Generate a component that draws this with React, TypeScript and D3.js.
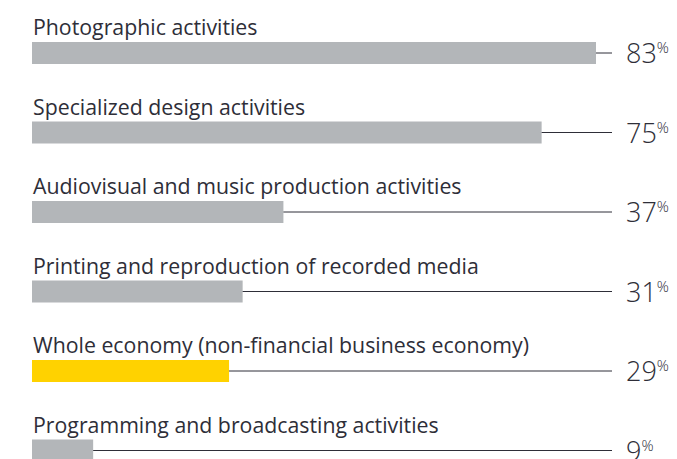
import React from "react";
import * as d3 from "d3";

const categories = [
  "Photographic activities",
  "Specialized design activities",
  "Audiovisual and music production activities",
  "Printing and reproduction of recorded media",
  "Whole economy (non-financial business economy)",
  "Programming and broadcasting activities",
];
const values = [83, 75, 37, 31, 29, 9];
const highlight = [false, false, false, false, true, false];

const W = 677;
const H = 459;

export default function App() {
  const x = d3.scaleLinear().domain([0, 100]).range([32, 32 + 679.5]);
  const y = d3.scaleBand<number>().domain(d3.range(categories.length)).range([0, 477]).paddingInner(0);
  const barH = 22;
  const lineEnd = 612;
  return (
    <svg width={W} height={H} style={{ position: "absolute", left: 0, top: 0, background: "#fff" }}>
      {categories.map((c, i) => {
        const top = y(i)! + 42;
        const mid = top + barH / 2;
        return (
          <g key={c}>
            <text x={33} y={top - 7} fontFamily="'Open Sans', sans-serif" fontSize={21.3} fill="#2e2e38">
              {c}
            </text>
            <rect x={x(0)} y={top} width={x(values[i]) - x(0)} height={barH} fill={highlight[i] ? "#ffd200" : "#b3b6b9"} />
            <line x1={x(values[i])} x2={lineEnd} y1={mid} y2={mid} stroke="#2e2e38" strokeWidth={1} />
            <text x={626} y={mid + 10} fontFamily="'Open Sans', sans-serif" fontWeight={300} fontSize={27} fill="#2e2e38">
              {values[i]}
              <tspan fontSize={15} dy={-10}>%</tspan>
            </text>
          </g>
        );
      })}
    </svg>
  );
}
